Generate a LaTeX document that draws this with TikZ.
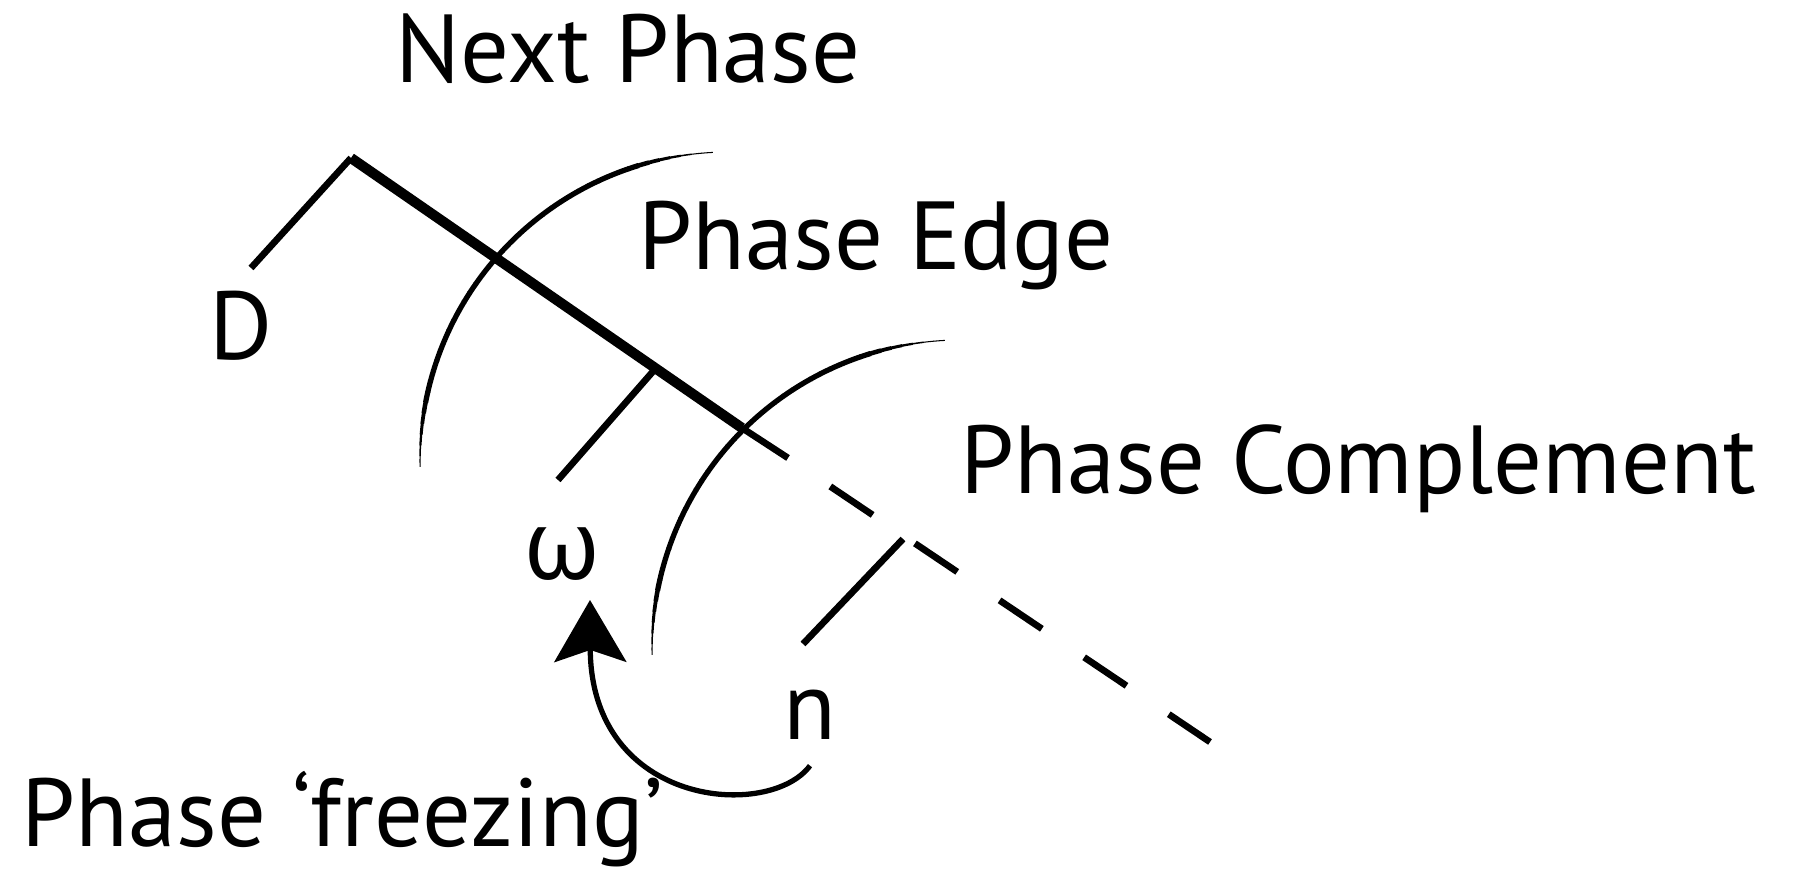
\documentclass[tikz,border=0pt]{standalone}
\usepackage{fontspec}
\setmainfont{PT Sans}
\newfontfamily\greekfont{Noto Sans}
\usetikzlibrary{arrows.meta, positioning}
\tikzset{
  lbl/.style={font=\fontsize{27.5}{32}\selectfont, inner sep=0pt},
  stem/.style={line width=1.9pt},
  trunk/.style={line width=2.9pt},
}
\begin{document}
\begin{tikzpicture}
  \useasboundingbox (0,0) rectangle (18.04,8.70);
  % Labels
  \node[lbl, anchor=base west] (next) at (3.95,7.87) {Next Phase};
  \node[lbl, anchor=base west] (edge) at (6.38,6.00) {Phase Edge};
  \node[lbl, anchor=base west] (compl) at (9.60,3.76) {Phase Complement};
  \node[lbl, anchor=base west] (freeze) at (0.21,0.23) {Phase ‘freezing’};
  \node[lbl, anchor=base] (d) at (2.41,5.10) {D};
  \node[lbl, anchor=base] (w) at (5.62,2.90) {\greekfont ω};
  \node[lbl, anchor=base] (n) at (8.10,1.30) {n};

  % Main branch
  \coordinate (dtip) at (2.51,6.02);
  \coordinate (apex) at (3.51,7.12);
  \coordinate (edgecross) at (7.42,4.42);
  \coordinate (solidend) at (7.88,4.12);
  \coordinate (tail) at (12.10,1.28);
  \draw[stem] (dtip) -- (apex);
  \draw[trunk] (apex) -- (edgecross);
  \draw[stem] (edgecross) -- (solidend);
  \draw[stem, dash pattern=on 0.51cm off 0.51cm, dash phase=0.51cm] (solidend) -- (tail);

  % Side ticks
  \draw[stem] (6.56,5.02) -- (5.58,3.90);
  \draw[stem] (9.03,3.31) -- (8.03,2.26);

  % Phase shells (tapered ends)
  \foreach \cx/\cy in {7.29/4.09, 9.61/2.21} {
    \foreach \a in {93,95,...,179} {
      \pgfmathsetmacro{\lw}{max(0.3, min(1.5, min(\a-93, 181-\a)/14*1.5))}
      \draw[line width=\lw pt] ([shift={(\a:3.09)}]\cx,\cy) arc (\a:\a+2.1:3.09);
    }
  }

  % Freezing arrow
  \draw[line width=1.5pt, -{Stealth[length=0.62cm, width=0.72cm, inset=0.12cm]}]
    ([yshift=-0.25cm]n.south) .. controls (7.7,0.5) and (5.91,0.62)
    .. ([xshift=0.28cm, yshift=-0.20cm]w.base);
\end{tikzpicture}
\end{document}
